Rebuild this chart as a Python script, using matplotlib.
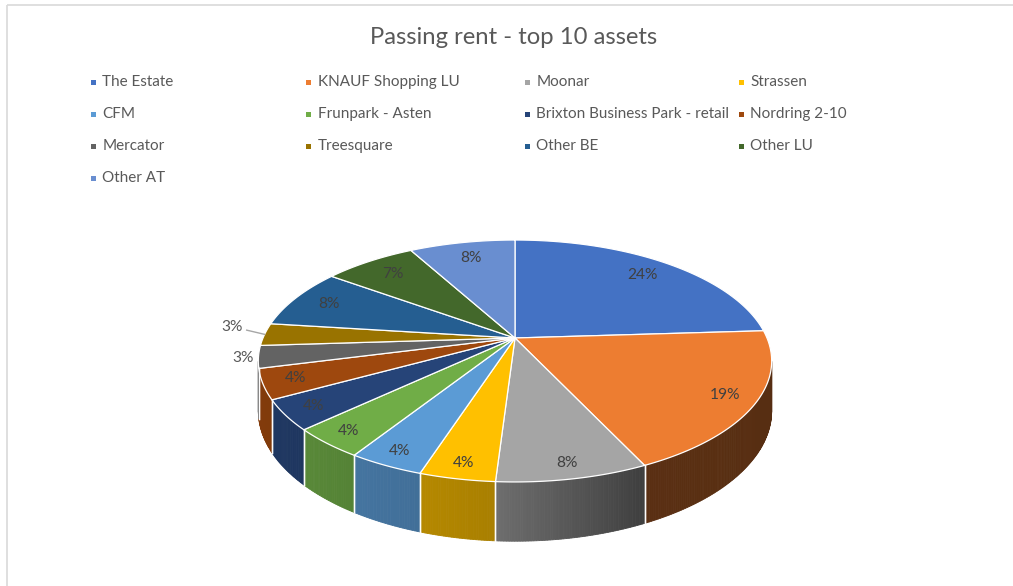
import numpy as np
import matplotlib
matplotlib.use("Agg")
import matplotlib.pyplot as plt
from matplotlib.patches import Polygon, Rectangle
from matplotlib.colors import to_rgb

# ---------------- data ----------------
title = "Passing rent - top 10 assets"
assets = ["The Estate", "KNAUF Shopping LU", "Moonar", "Strassen", "CFM",
          "Frunpark - Asten", "Brixton Business Park - retail", "Nordring 2-10",
          "Mercator", "Treesquare", "Other BE", "Other LU", "Other AT"]
shares = [24, 19, 8, 4, 4, 4, 4, 4, 3, 3, 8, 7, 8]
colors = ["#4472C4", "#ED7D31", "#A5A5A5", "#FFC000", "#5B9BD5", "#70AD47",
          "#264478", "#9E480E", "#636363", "#997300", "#255E91", "#43682B",
          "#698ED0"]

# ---------------- figure ----------------
W, H = 1013, 586
plt.rcParams['font.family'] = ['Lato', 'DejaVu Sans']
fig = plt.figure(figsize=(W / 100, H / 100), dpi=100)
ax = fig.add_axes([0, 0, 1, 1])
ax.set_xlim(0, W)
ax.set_ylim(H, 0)
ax.axis("off")

TXT = "#595959"

# chart border (Excel chart area)
ax.plot([6.5, W], [4.5, 4.5], color="#D9D9D9", lw=1.2, solid_capstyle="butt")
ax.plot([6.5, 6.5], [4.5, H], color="#D9D9D9", lw=1.2, solid_capstyle="butt")

ax.text(514, 38, title, ha="center", va="center", fontsize=17.2, color=TXT)

# ---------------- legend (Excel row-wise layout) ----------------
col_x = [93, 308.5, 527, 741]
row_y0, row_dy = 82, 32
for i, (name, c) in enumerate(zip(assets, colors)):
    r, cidx = divmod(i, 4)
    x = col_x[cidx]
    y = row_y0 + r * row_dy
    ax.add_patch(Rectangle((x - 2.5, y - 2.5), 5, 5, color=c, lw=0))
    ax.text(x + 9.5, y, name, ha="left", va="center", fontsize=11.0, color=TXT)

# ---------------- 3D pie ----------------
CX, CY = 515, 338
A, B, K, DEPTH = 252, 116.6, 0.19, 48


def proj(r, theta_deg, z=0.0):
    t = np.radians(theta_deg)
    u = r * np.cos(t)
    v = r * np.sin(t)
    d = 1.0 / (1.0 + K * v)
    return CX + A * u * d, CY - B * v * d + DEPTH * z * d


total = float(sum(shares))
bounds = 90 - 360 * np.concatenate([[0], np.cumsum(shares)]) / total

# visible wall range (silhouette of the perspective cylinder)
sil = np.degrees(np.arcsin(K))
vis_lo, vis_hi = -180 + sil, -sil


def shade(theta):
    return np.interp(theta, [-180, -140, -110, -93, -65, 0],
                     [0.85, 0.80, 0.72, 0.66, 0.38, 0.36])


# side walls
for i in range(len(shares)):
    t0, t1 = bounds[i + 1], bounds[i]
    lo, hi = max(t0, vis_lo), min(t1, vis_hi)
    if hi <= lo:
        continue
    base = np.array(to_rgb(colors[i]))
    n = max(2, int((hi - lo) / 0.5))
    ts = np.linspace(lo, hi, n + 1)
    for a0, a1 in zip(ts[:-1], ts[1:]):
        f = shade((a0 + a1) / 2)
        col = np.clip(base * f, 0, 1)
        p = [proj(1, a0, 0), proj(1, a1, 0), proj(1, a1, 1), proj(1, a0, 1)]
        ax.add_patch(Polygon(p, closed=True, fc=col, ec=col, lw=0.6))
    # white boundary edges on the wall
    for tb in (t0, t1):
        if vis_lo < tb < vis_hi:
            xa, ya = proj(1, tb, 0)
            xb, yb = proj(1, tb, 1)
            ax.plot([xa, xb], [ya, yb], color="white", lw=1.0, alpha=0.9)

# top surface
for i in range(len(shares)):
    t0, t1 = bounds[i + 1], bounds[i]
    ts = np.linspace(t1, t0, 200)
    pts = [(CX, CY)] + [proj(1, t) for t in ts]
    ax.add_patch(Polygon(pts, closed=True, fc=colors[i], ec="white", lw=0.9,
                         joinstyle="round"))

# data labels
prev_out = None
for i, s in enumerate(shares):
    mid = (bounds[i] + bounds[i + 1]) / 2
    label = f"{s / total * 100:.0f}%"
    if s <= 3:
        x, y = proj(1.06, mid)
        if prev_out is not None and abs(y - prev_out[1]) < 30:
            x -= 18
            y -= 7
            xr, yr = proj(1.0, mid)
            ax.plot([x + 15, xr], [y + 3, yr], color="#A6A6A6", lw=1.0)
        ax.text(x, y, label, ha="center", va="center", fontsize=11.2, color=TXT)
        prev_out = (x, y)
    else:
        r = 0.86 - 0.05 * np.sin(np.radians(mid))
        x, y = proj(r, mid)
        ax.text(x, y, label, ha="center", va="center", fontsize=11.2,
                color="#404040")

fig.savefig("out.png", dpi=100, facecolor="white")
